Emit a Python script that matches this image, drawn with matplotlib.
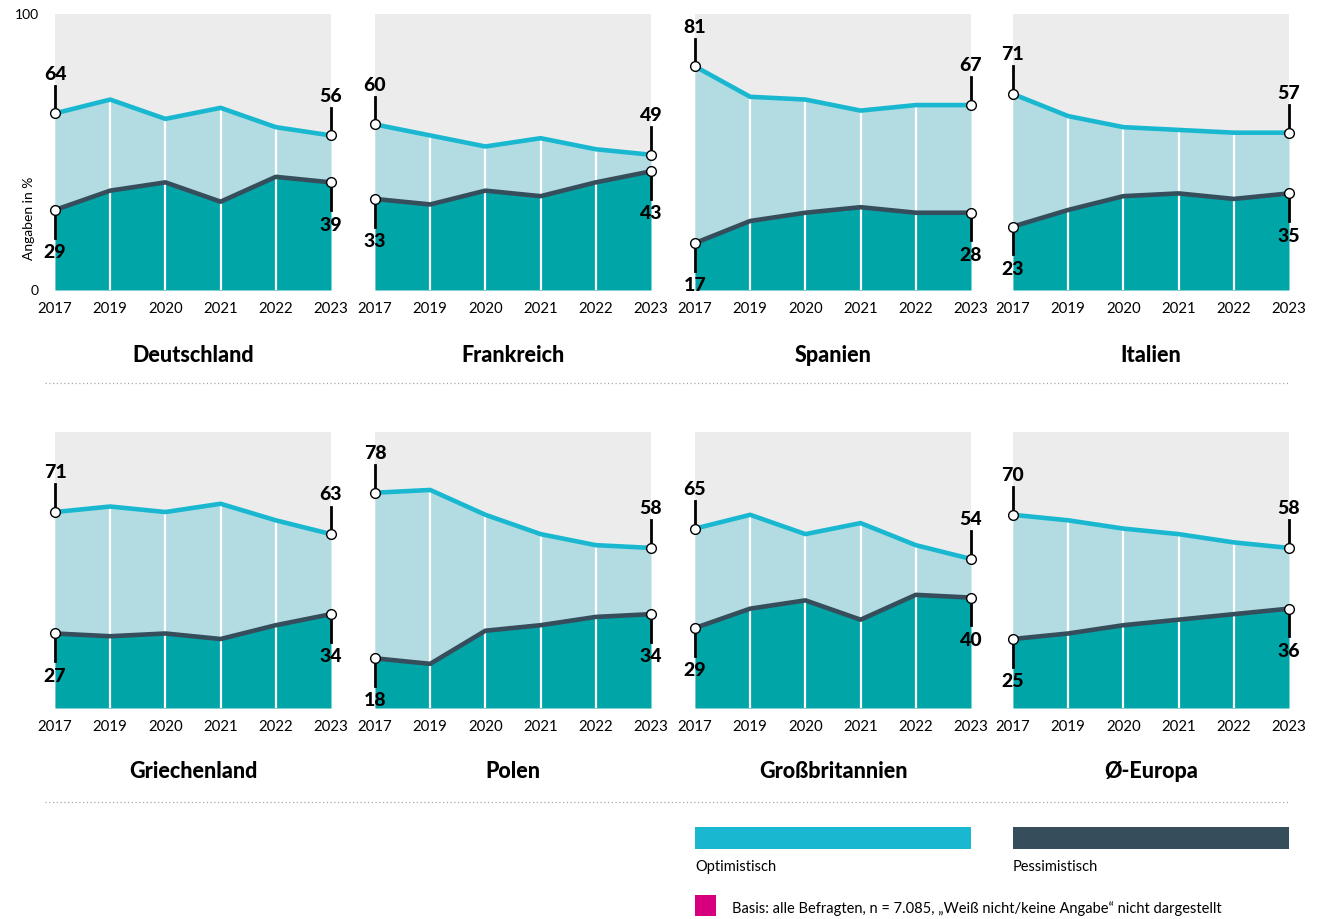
import matplotlib
matplotlib.use("Agg")
import matplotlib.pyplot as plt
from matplotlib.lines import Line2D
from matplotlib.patches import Rectangle

plt.rcParams['font.family'] = ['Lato', 'DejaVu Sans']

# data
years = ["2017", "2019", "2020", "2021", "2022", "2023"]
countries = ["Deutschland", "Frankreich", "Spanien", "Italien",
             "Griechenland", "Polen", "Großbritannien", "Ø-Europa"]

de_opt = [64, 69, 62, 66, 59, 56]
de_pes = [29, 36, 39, 32, 41, 39]
fr_opt = [60, 56, 52, 55, 51, 49]
fr_pes = [33, 31, 36, 34, 39, 43]
es_opt = [81, 70, 69, 65, 67, 67]
es_pes = [17, 25, 28, 30, 28, 28]
it_opt = [71, 63, 59, 58, 57, 57]
it_pes = [23, 29, 34, 35, 33, 35]
gr_opt = [71, 73, 71, 74, 68, 63]
gr_pes = [27, 26, 27, 25, 30, 34]
pl_opt = [78, 79, 70, 63, 59, 58]
pl_pes = [18, 16, 28, 30, 33, 34]
gb_opt = [65, 70, 63, 67, 59, 54]
gb_pes = [29, 36, 39, 32, 41, 40]
eu_opt = [70, 68, 65, 63, 60, 58]
eu_pes = [25, 27, 30, 32, 34, 36]

optimistisch = [de_opt, fr_opt, es_opt, it_opt, gr_opt, pl_opt, gb_opt, eu_opt]
pessimistisch = [de_pes, fr_pes, es_pes, it_pes, gr_pes, pl_pes, gb_pes, eu_pes]

# colours
BG = '#ececec'
LIGHT = '#b2dce1'
DARK = '#00a5a8'
CYAN = '#1ab8d0'
SLATE = '#364e5c'
MAGENTA = '#d6007f'

W, H = 1319, 920
fig = plt.figure(figsize=(W / 100, H / 100), dpi=100)


def rect(left, top, w, h):
    return [left / W, 1 - (top + h) / H, w / W, h / H]


lefts = [55, 375, 695, 1013]
tops = [15, 433]
pw, ph = 276, 276
x = list(range(len(years)))

for i, name in enumerate(countries):
    row, col = divmod(i, 4)
    ax = fig.add_axes(rect(lefts[col], tops[row], pw, ph))
    opt = optimistisch[i]
    pes = pessimistisch[i]

    ax.set_facecolor(BG)
    ax.fill_between(x, 0, pes, color=DARK, lw=0, zorder=1)
    ax.fill_between(x, pes, opt, color=LIGHT, lw=0, zorder=1)
    ax.vlines(x[1:-1], 0, opt[1:-1], color='white', lw=1.6, zorder=2)
    ax.plot(x, opt, color=CYAN, lw=3.3, zorder=3, solid_capstyle='butt')
    ax.plot(x, pes, color=SLATE, lw=3.3, zorder=3, solid_capstyle='butt')

    # end point markers with leader lines and labels
    for j in (0, len(x) - 1):
        ax.plot([x[j], x[j]], [opt[j], opt[j] + 10], color='black', lw=2,
                clip_on=False, zorder=4)
        ax.annotate(str(opt[j]), (x[j], opt[j] + 10), xytext=(0, 3),
                    textcoords='offset points', ha='center', va='bottom',
                    fontsize=14, fontweight='black', annotation_clip=False)
        ax.plot([x[j], x[j]], [pes[j], pes[j] - 10], color='black', lw=2,
                clip_on=False, zorder=4)
        ax.annotate(str(pes[j]), (x[j], pes[j] - 10), xytext=(0, -4),
                    textcoords='offset points', ha='center', va='top',
                    fontsize=14, fontweight='black', annotation_clip=False)
        for v in (opt[j], pes[j]):
            ax.plot(x[j], v, 'o', ms=7, mfc='white', mec='black', mew=1,
                    clip_on=False, zorder=5)

    ax.set_xlim(0, len(x) - 1)
    ax.set_ylim(0, 100)
    ax.set_xticks(x)
    ax.set_xticklabels(years, fontsize=10.8)
    ax.tick_params(axis='x', length=0, pad=8)
    ax.set_yticks([])
    for s in ax.spines.values():
        s.set_visible(False)

    fig.text((lefts[col] + pw / 2) / W, 1 - (355 + row * 417) / H, name,
             ha='center', va='center', fontsize=15.5, fontweight='black')

# y axis text for the first panel
fig.text(39 / W, 1 - 15 / H, "100", ha='right', va='center', fontsize=10)
fig.text(39 / W, 1 - 291 / H, "0", ha='right', va='center', fontsize=10)
fig.text(29 / W, 1 - 218 / H, "Angaben in %", ha='center', va='center',
         rotation=90, fontsize=10)

# dotted separators
for yy in (384, 803):
    fig.add_artist(Line2D([45 / W, 1289 / W], [1 - yy / H] * 2,
                          ls=(0, (1, 2)), color='#a8a8a8', lw=0.9))

# legend
fig.add_artist(Rectangle((695 / W, 1 - 850 / H), 276 / W, 22 / H,
                         transform=fig.transFigure, color=CYAN, lw=0))
fig.add_artist(Rectangle((1013 / W, 1 - 850 / H), 276 / W, 22 / H,
                         transform=fig.transFigure, color=SLATE, lw=0))
fig.text(695 / W, 1 - 867 / H, "Optimistisch", ha='left', va='center',
         fontsize=10.5)
fig.text(1013 / W, 1 - 867 / H, "Pessimistisch", ha='left', va='center',
         fontsize=10.5)
fig.add_artist(Rectangle((695 / W, 1 - 917 / H), 21 / W, 21 / H,
                         transform=fig.transFigure, color=MAGENTA, lw=0))
fig.text(732 / W, 1 - 909 / H,
         "Basis: alle Befragten, n = 7.085, „Weiß nicht/keine Angabe\u201c nicht dargestellt",
         ha='left', va='center', fontsize=10.5)

fig.savefig("out.png", dpi=100)
